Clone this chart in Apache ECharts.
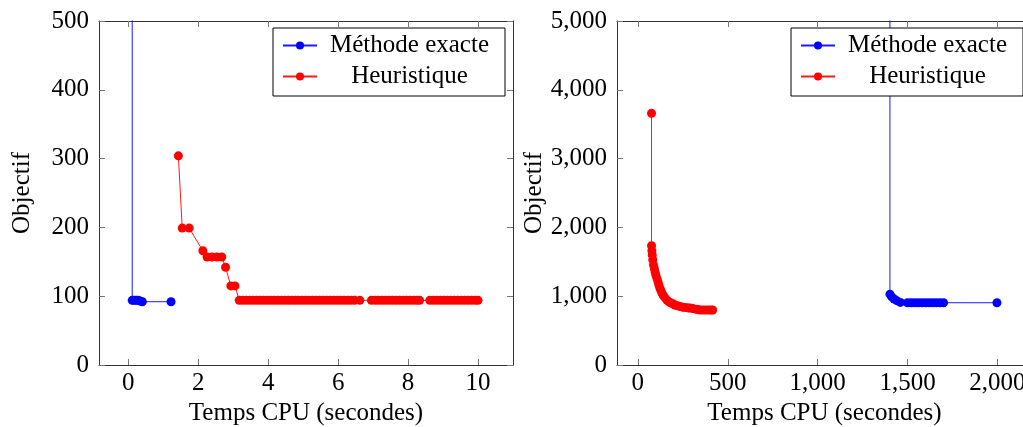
<!DOCTYPE html>
<html><head><meta charset="utf-8">
<script src="https://cdn.jsdelivr.net/npm/echarts@6/dist/echarts.min.js"></script>
<style>html,body{margin:0;padding:0;background:#fff}#c{width:1023px;height:427px}</style>
</head><body><div id="c"></div>
<script>
const seriesNames = ['Méthode exacte', 'Heuristique'];
const xAxisTitle = 'Temps CPU (secondes)';
const yAxisTitle = 'Objectif';

// Left panel
const leftXTicks = [0, 2, 4, 6, 8, 10];
const leftYTicks = [0, 100, 200, 300, 400, 500];
const exactLeftX = [0.11, 0.11, 0.16, 0.22, 0.28, 0.34, 0.40, 1.22];
const exactLeftY = [5000, 94, 94, 94, 94, 93, 92, 92];
const heurLeftX = [1.43, 1.54, 1.74, 2.13, 2.25, 2.39, 2.53, 2.67, 2.78, 2.93, 3.05,
  3.17, 3.27, 3.37, 3.47, 3.57, 3.67, 3.77, 3.87, 3.97, 4.07, 4.17, 4.27, 4.37, 4.47,
  4.57, 4.67, 4.77, 4.87, 4.97, 5.07, 5.17, 5.27, 5.37, 5.47, 5.57, 5.67, 5.77, 5.87,
  5.97, 6.07, 6.17, 6.27, 6.37, 6.47, 6.62,
  6.95, 7.05, 7.15, 7.25, 7.35, 7.45, 7.55, 7.65, 7.75, 7.85, 7.95, 8.05, 8.15, 8.25, 8.33,
  8.62, 8.72, 8.82, 8.92, 9.02, 9.12, 9.22, 9.32, 9.42, 9.52, 9.62, 9.72, 9.82, 9.92, 10.0];
const heurLeftY = [304, 199, 199, 166, 157, 157, 157, 157, 142, 115, 115,
  94, 94, 94, 94, 94, 94, 94, 94, 94, 94, 94, 94, 94, 94,
  94, 94, 94, 94, 94, 94, 94, 94, 94, 94, 94, 94, 94, 94,
  94, 94, 94, 94, 94, 94, 94,
  94, 94, 94, 94, 94, 94, 94, 94, 94, 94, 94, 94, 94, 94, 94,
  94, 94, 94, 94, 94, 94, 94, 94, 94, 94, 94, 94, 94, 94, 94];

// Right panel
const rightXTicks = [0, 500, 1000, 1500, 2000];
const rightYTicks = [0, 1000, 2000, 3000, 4000, 5000];
const exactRightX = [1402, 1402, 1412, 1425, 1440, 1460, 1500, 1520, 1540, 1560, 1580,
  1600, 1620, 1640, 1660, 1680, 1700, 1997];
const exactRightY = [9000, 1030, 990, 960, 935, 910, 905, 905, 905, 905, 905,
  905, 905, 905, 905, 905, 905, 905];
const heurRightX = [76, 76, 78, 80, 83, 87, 92, 96, 100, 106, 112, 117, 122, 128, 134,
  141, 150, 161, 172, 185, 195, 206, 220, 235, 250, 265, 280, 290, 305, 320, 335, 345,
  360, 375, 390, 405, 416];
const heurRightY = [3658, 1734, 1660, 1600, 1530, 1453, 1400, 1350, 1308, 1260, 1210,
  1163, 1120, 1085, 1047, 1010, 980, 945, 920, 900, 890, 872, 860, 850, 840, 835, 830,
  828, 820, 812, 805, 800, 800, 800, 800, 800, 800];

const zip = (xs, ys) => xs.map((x, i) => [x, ys[i]]);
const FONT = "'Liberation Serif', 'Times New Roman', serif";
const FS = 25;
const commaFmt = v => Number(v).toLocaleString('en-US');

function xAxes(gridIndex, min, max, ticks, fmt) {
  const base = {
    type: 'value', gridIndex, min, max,
    axisLine: { show: true, onZero: false, lineStyle: { color: '#333', width: 1 } },
    axisTick: { show: true, inside: true, length: 6, lineStyle: { color: '#777' }, customValues: ticks },
    splitLine: { show: false }
  };
  return [
    Object.assign({}, base, {
      position: 'bottom',
      axisLabel: { show: true, customValues: ticks, margin: 6, color: '#000', fontFamily: FONT, fontSize: FS, formatter: fmt },
      name: xAxisTitle, nameLocation: 'middle', nameGap: 36,
      nameTextStyle: { color: '#000', fontFamily: FONT, fontSize: FS }
    }),
    Object.assign({}, base, { position: 'top', axisLabel: { show: false } })
  ];
}
function yAxes(gridIndex, ticks, fmt) {
  const base = {
    type: 'value', gridIndex, min: ticks[0], max: ticks[ticks.length - 1],
    interval: ticks[1] - ticks[0],
    axisLine: { show: true, onZero: false, lineStyle: { color: '#333', width: 1 } },
    axisTick: { show: true, inside: true, length: 6, lineStyle: { color: '#777' } },
    splitLine: { show: false }
  };
  return [
    Object.assign({}, base, {
      position: 'left',
      axisLabel: { show: true, margin: 10, color: '#000', fontFamily: FONT, fontSize: FS, formatter: fmt },
      name: yAxisTitle, nameLocation: 'middle', nameGap: 64, nameRotate: 90,
      nameTextStyle: { color: '#000', fontFamily: FONT, fontSize: FS }
    }),
    Object.assign({}, base, { position: 'right', axisLabel: { show: false } })
  ];
}
function line(name, color, data, xi, yi) {
  return {
    type: 'line', name, data, xAxisIndex: xi, yAxisIndex: yi,
    symbol: 'circle', symbolSize: 9, showSymbol: true, clip: true,
    itemStyle: { color, borderWidth: 0 },
    lineStyle: { color, width: 1, opacity: 0.9 },
    emphasis: { disabled: true }, animation: false
  };
}
function legend(left) {
  return {
    left, top: 28, orient: 'vertical',
    data: seriesNames,
    backgroundColor: '#fff', borderColor: '#000', borderWidth: 1, borderRadius: 0,
    padding: [5, 8, 7, 9], itemGap: 6, itemWidth: 34, itemHeight: 10,
    selectedMode: false,
    formatter: n => '{t|' + n + '}',
    textStyle: {
      color: '#000', fontFamily: FONT, fontSize: FS,
      rich: { t: { width: 175, align: 'center', color: '#000', fontFamily: FONT, fontSize: FS, lineHeight: 25 } }
    }
  };
}

const chart = echarts.init(document.getElementById('c'), null, { renderer: 'canvas' });
chart.setOption({
  animation: false,
  backgroundColor: '#fff',
  grid: [
    { left: 99, top: 21, width: 414, height: 344, containLabel: false, outerBoundsMode: 'none' },
    { left: 617, top: 21, width: 415, height: 344, containLabel: false, outerBoundsMode: 'none' }
  ],
  legend: [legend(273), legend(791)],
  xAxis: [].concat(xAxes(0, -0.84, 11, leftXTicks, v => String(v)),
                   xAxes(1, -116, 2192, rightXTicks, commaFmt)),
  yAxis: [].concat(yAxes(0, leftYTicks, v => String(v)),
                   yAxes(1, rightYTicks, commaFmt)),
  series: [
    line(seriesNames[0], '#0000ff', zip(exactLeftX, exactLeftY), 0, 0),
    line(seriesNames[1], '#ff0000', zip(heurLeftX, heurLeftY), 0, 0),
    line(seriesNames[0], '#0000ff', zip(exactRightX, exactRightY), 2, 2),
    line(seriesNames[1], '#ff0000', zip(heurRightX, heurRightY), 2, 2)
  ]
});
</script></body></html>
